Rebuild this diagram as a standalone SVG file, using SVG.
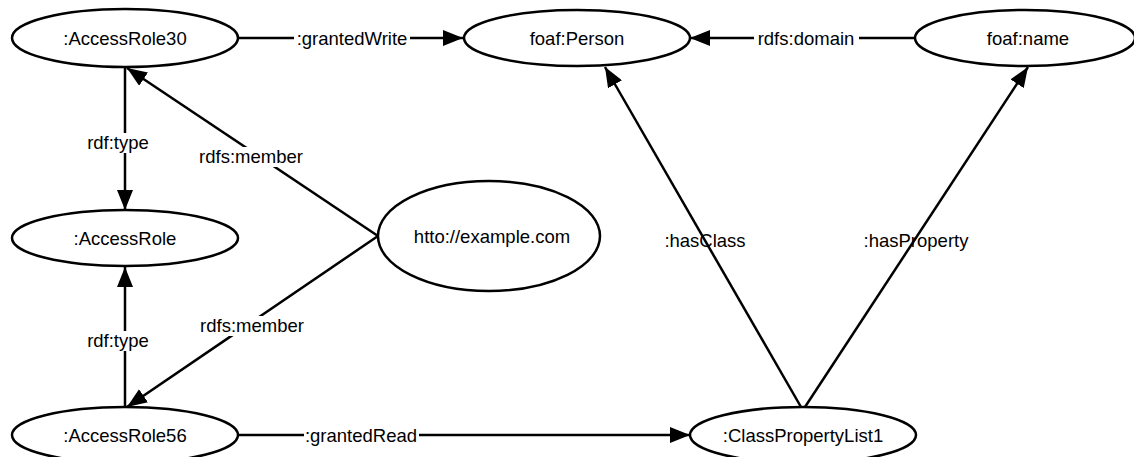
<svg xmlns="http://www.w3.org/2000/svg" width="1134" height="457" viewBox="0 0 1134 457">
  <defs>
    <marker id="arrow" markerUnits="userSpaceOnUse" markerWidth="22" markerHeight="16" refX="20" refY="8" orient="auto">
      <path d="M0,0 L20,8 L0,16 z" fill="#000"/>
    </marker>
    <style>
      .node ellipse { fill: #fff; stroke: #000; stroke-width: 2.5; }
      .node text, .lbl { font-family: "Liberation Sans", Arial, sans-serif; font-size: 18.5px; fill: #000; text-anchor: middle; }
      .edge { stroke: #000; stroke-width: 2.5; fill: none; marker-end: url(#arrow); }
      .bg { fill: #fff; }
    </style>
  </defs>

  <!-- connectors -->
  <g id="connectors">
    <line class="edge" x1="238" y1="38" x2="463" y2="38"/>
    <line class="edge" x1="915" y1="38" x2="690" y2="38"/>
    <line class="edge" x1="125" y1="68" x2="125" y2="210"/>
    <line class="edge" x1="378" y1="236" x2="127" y2="68"/>
    <line class="edge" x1="378" y1="236" x2="127" y2="407"/>
    <line class="edge" x1="125" y1="407" x2="125" y2="267"/>
    <line class="edge" x1="238" y1="435" x2="690" y2="435"/>
    <line class="edge" x1="801" y1="407" x2="605" y2="67"/>
    <line class="edge" x1="805" y1="407" x2="1028" y2="67"/>

    <rect class="bg" x="294" y="29" width="116" height="20"/>
    <text class="lbl" x="352" y="45">:grantedWrite</text>
    <rect class="bg" x="754" y="29" width="105" height="20"/>
    <text class="lbl" x="806" y="45">rdfs:domain</text>
    <rect class="bg" x="79" y="133" width="79" height="20"/>
    <text class="lbl" x="118" y="149">rdf:type</text>
    <rect class="bg" x="196" y="147" width="110" height="20"/>
    <text class="lbl" x="251" y="163">rdfs:member</text>
    <rect class="bg" x="197" y="316" width="110" height="20"/>
    <text class="lbl" x="252" y="332">rdfs:member</text>
    <rect class="bg" x="79" y="331" width="79" height="20"/>
    <text class="lbl" x="118" y="347">rdf:type</text>
    <rect class="bg" x="304" y="426" width="115" height="20"/>
    <text class="lbl" x="361" y="442">:grantedRead</text>
    <text class="lbl" x="705" y="247">:hasClass</text>
    <text class="lbl" x="916" y="247">:hasProperty</text>
  </g>

  <g id="accessRole30" class="node">
    <ellipse cx="125" cy="38" rx="113" ry="29"/>
    <text x="125" y="45">:AccessRole30</text>
  </g>
  <g id="foafPerson" class="node">
    <ellipse cx="577" cy="38" rx="113" ry="28"/>
    <text x="577" y="45">foaf:Person</text>
  </g>
  <g id="foafName" class="node">
    <ellipse cx="1025" cy="38" rx="110" ry="28"/>
    <text x="1028" y="45">foaf:name</text>
  </g>
  <g id="accessRole" class="node">
    <ellipse cx="125" cy="238" rx="113" ry="28"/>
    <text x="125" y="245">:AccessRole</text>
  </g>
  <g id="exampleCom" class="node">
    <ellipse cx="489" cy="236" rx="111" ry="55"/>
    <text x="492" y="243">htto://example.com</text>
  </g>
  <g id="accessRole56" class="node">
    <ellipse cx="125" cy="435" rx="113" ry="28"/>
    <text x="125" y="442">:AccessRole56</text>
  </g>
  <g id="classPropertyList1" class="node">
    <ellipse cx="803" cy="435" rx="113" ry="28"/>
    <text x="803" y="442">:ClassPropertyList1</text>
  </g>
</svg>
